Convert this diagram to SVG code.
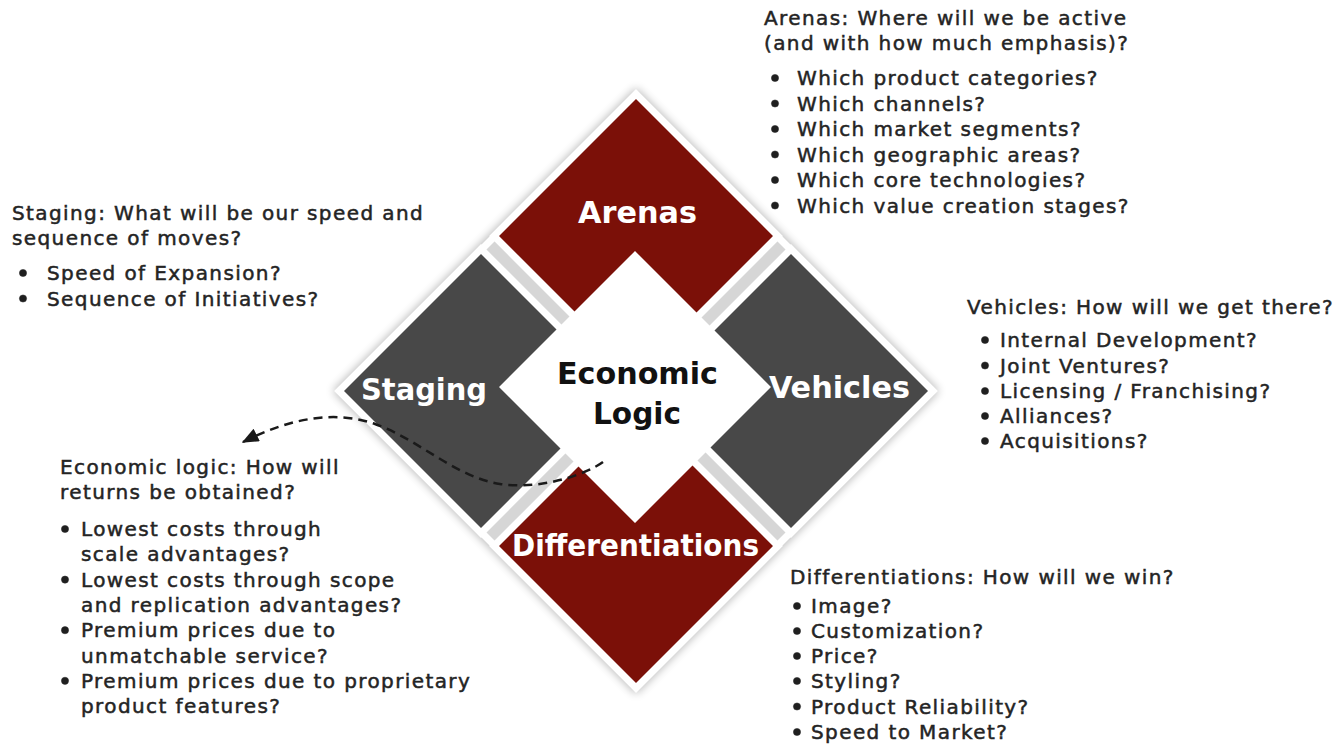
<svg xmlns="http://www.w3.org/2000/svg" width="1337" height="744" viewBox="0 0 1337 744">
<defs>
<style>
.piece{stroke:#ffffff;stroke-width:14;stroke-linejoin:miter;paint-order:stroke}
.red{fill:#7b1008}
.gray{fill:#484848}
.lbl{font-family:"DejaVu Sans Condensed","DejaVu Sans",sans-serif;font-weight:bold;font-size:30px;text-anchor:middle;font-stretch:condensed}
.wlbl{fill:#ffffff}
.blbl{fill:#111111}
.body{font-family:"DejaVu Sans","Liberation Sans",sans-serif;font-size:20px;letter-spacing:1.4px;fill:#242424;stroke:#242424;stroke-width:0.5}
.dot{fill:#1f1f1f}
.conn{fill:none;stroke:#1a1a1a;stroke-width:2.5;stroke-dasharray:9 6}
</style>
<filter id="soft" x="-10%" y="-10%" width="120%" height="120%">
<feGaussianBlur stdDeviation="5"/>
</filter>
<marker id="arrow" viewBox="0 0 12 10" refX="11" refY="5" markerWidth="17" markerHeight="14" markerUnits="userSpaceOnUse" orient="auto">
<path d="M0,0 L12,5 L0,10 z" fill="#1a1a1a"/>
</marker>
</defs>
<rect width="1337" height="744" fill="#ffffff"/>
<g id="backdrop">
<polygon points="636,88 939,391 636,694 333,391" fill="#000000" opacity="0.28" filter="url(#soft)"/>
<polygon points="636,90 937,391 636,692 335,391" fill="#ffffff"/>
<polygon points="636,100 927,391 636,682 345,391" fill="#d6d6d6"/>
</g>
<g id="node-economic-logic">
<polygon points="635,251 771,387 635,523 499,387" fill="#ffffff"/>
<text class="lbl blbl" x="637.5" y="384" textLength="161" lengthAdjust="spacingAndGlyphs">Economic</text>
<text class="lbl blbl" x="637" y="424" textLength="88" lengthAdjust="spacingAndGlyphs">Logic</text>
</g>
<g id="node-arenas">
<polygon class="piece red" points="636,99 773,236 696.5,312.5 635,251 574.5,311.5 499,236"/>
<text class="lbl wlbl" x="637.5" y="223" textLength="119" lengthAdjust="spacingAndGlyphs">Arenas</text>
</g>
<g id="node-staging">
<polygon class="piece gray" points="344,391 481,254 556.5,329.5 499,387 560.5,448.5 481,528"/>
<text class="lbl wlbl" x="424" y="400" textLength="126" lengthAdjust="spacingAndGlyphs">Staging</text>
</g>
<g id="node-vehicles">
<polygon class="piece gray" points="928,391 791,254 714.5,330.5 771,387 710.5,447.5 791,528"/>
<text class="lbl wlbl" x="839.5" y="398" textLength="141" lengthAdjust="spacingAndGlyphs">Vehicles</text>
</g>
<g id="node-differentiations">
<polygon class="piece red" points="636,683 499,546 578.5,466.5 635,523 692.5,465.5 773,546"/>
<text class="lbl wlbl" x="635.5" y="556" textLength="247" lengthAdjust="spacingAndGlyphs">Differentiations</text>
</g>
<g id="connectors">
<path class="conn" d="M603,462 C585,475 540,490 500,484 C455,477 420,440 375,424 C335,410 290,418 243,442" marker-end="url(#arrow)"/>
</g>
<g id="text-arenas" class="body">
<text x="764" y="25">Arenas: Where will we be active</text>
<text x="764" y="50">(and with how much emphasis)?</text>
<circle class="dot" cx="775" cy="78" r="3.6"/><text x="797" y="85">Which product categories?</text>
<circle class="dot" cx="775" cy="103.5" r="3.6"/><text x="797" y="110.5">Which channels?</text>
<circle class="dot" cx="775" cy="129" r="3.6"/><text x="797" y="136">Which market segments?</text>
<circle class="dot" cx="775" cy="154.5" r="3.6"/><text x="797" y="161.5">Which geographic areas?</text>
<circle class="dot" cx="775" cy="180" r="3.6"/><text x="797" y="187">Which core technologies?</text>
<circle class="dot" cx="775" cy="205.5" r="3.6"/><text x="797" y="212.5">Which value creation stages?</text>
</g>
<g id="text-staging" class="body">
<text x="12" y="220">Staging: What will be our speed and</text>
<text x="12" y="245">sequence of moves?</text>
<circle class="dot" cx="23" cy="273" r="3.6"/><text x="47" y="280">Speed of Expansion?</text>
<circle class="dot" cx="23" cy="298.5" r="3.6"/><text x="47" y="305.5">Sequence of Initiatives?</text>
</g>
<g id="text-vehicles" class="body">
<text x="967" y="314">Vehicles: How will we get there?</text>
<circle class="dot" cx="985" cy="340" r="3.6"/><text x="1000" y="347">Internal Development?</text>
<circle class="dot" cx="985" cy="365.5" r="3.6"/><text x="1000" y="372.5">Joint Ventures?</text>
<circle class="dot" cx="985" cy="391" r="3.6"/><text x="1000" y="398">Licensing / Franchising?</text>
<circle class="dot" cx="985" cy="416" r="3.6"/><text x="1000" y="423">Alliances?</text>
<circle class="dot" cx="985" cy="441" r="3.6"/><text x="1000" y="448">Acquisitions?</text>
</g>
<g id="text-economic-logic" class="body">
<text x="60" y="474">Economic logic: How will</text>
<text x="60" y="499">returns be obtained?</text>
<circle class="dot" cx="65" cy="529" r="3.6"/><text x="81" y="536">Lowest costs through</text>
<text x="81" y="561.3">scale advantages?</text>
<circle class="dot" cx="65" cy="579.6" r="3.6"/><text x="81" y="586.6">Lowest costs through scope</text>
<text x="81" y="611.9">and replication advantages?</text>
<circle class="dot" cx="65" cy="630.2" r="3.6"/><text x="81" y="637.2">Premium prices due to</text>
<text x="81" y="662.5">unmatchable service?</text>
<circle class="dot" cx="65" cy="680.8" r="3.6"/><text x="81" y="687.8">Premium prices due to proprietary</text>
<text x="81" y="713">product features?</text>
</g>
<g id="text-differentiations" class="body">
<text x="790" y="584">Differentiations: How will we win?</text>
<circle class="dot" cx="797" cy="606" r="3.6"/><text x="811" y="613">Image?</text>
<circle class="dot" cx="797" cy="631" r="3.6"/><text x="811" y="638">Customization?</text>
<circle class="dot" cx="797" cy="656" r="3.6"/><text x="811" y="663">Price?</text>
<circle class="dot" cx="797" cy="681" r="3.6"/><text x="811" y="688">Styling?</text>
<circle class="dot" cx="797" cy="706.5" r="3.6"/><text x="811" y="713.5">Product Reliability?</text>
<circle class="dot" cx="797" cy="732" r="3.6"/><text x="811" y="739">Speed to Market?</text>
</g>
</svg>
